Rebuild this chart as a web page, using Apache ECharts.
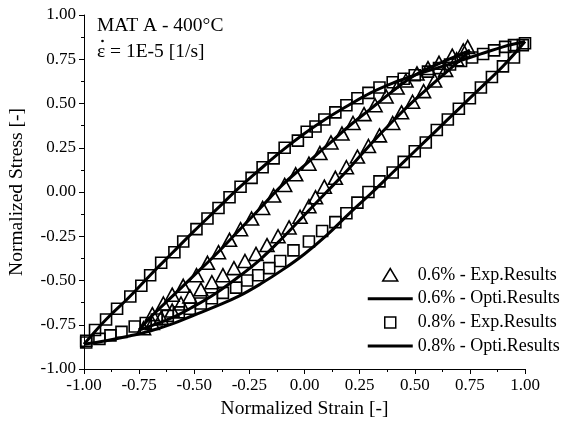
<!DOCTYPE html>
<html><head><meta charset="utf-8">
<script src="https://cdn.jsdelivr.net/npm/echarts@6/dist/echarts.min.js"></script>
<style>html,body{margin:0;padding:0;background:#fff}#c{width:567px;height:429px}</style>
</head><body><div id="c"></div>
<script>
// ---- data (normalized strain, normalized stress) ----
const exp06Load = [[-0.73,-0.77],[-0.69,-0.74],[-0.65,-0.71],[-0.60,-0.67],[-0.56,-0.63],[-0.52,-0.59],[-0.47,-0.55],[-0.42,-0.51],[-0.37,-0.47],[-0.32,-0.43],[-0.27,-0.39],[-0.22,-0.35],[-0.17,-0.30],[-0.12,-0.25],[-0.07,-0.20],[-0.02,-0.14],[0.02,-0.08],[0.05,-0.03],[0.09,0.03],[0.14,0.08],[0.19,0.14],[0.24,0.20],[0.29,0.26],[0.34,0.32],[0.40,0.39],[0.44,0.45],[0.49,0.51],[0.54,0.57],[0.59,0.63],[0.64,0.69],[0.69,0.75],[0.72,0.80]];
const exp06Unload = [[0.74,0.82],[0.67,0.77],[0.61,0.73],[0.56,0.70],[0.51,0.67],[0.46,0.63],[0.42,0.59],[0.37,0.54],[0.32,0.49],[0.27,0.44],[0.22,0.39],[0.17,0.33],[0.12,0.28],[0.07,0.22],[0.02,0.16],[-0.04,0.10],[-0.09,0.04],[-0.14,-0.02],[-0.19,-0.09],[-0.24,-0.15],[-0.29,-0.21],[-0.34,-0.27],[-0.39,-0.34],[-0.44,-0.40],[-0.49,-0.47],[-0.55,-0.53],[-0.60,-0.58],[-0.64,-0.63],[-0.69,-0.69]];
const exp08Load = [[-0.99,-0.85],[-0.93,-0.83],[-0.88,-0.81],[-0.83,-0.79],[-0.77,-0.76],[-0.72,-0.74],[-0.67,-0.72],[-0.62,-0.70],[-0.57,-0.68],[-0.52,-0.66],[-0.47,-0.63],[-0.42,-0.60],[-0.37,-0.57],[-0.31,-0.54],[-0.26,-0.50],[-0.21,-0.47],[-0.16,-0.43],[-0.11,-0.39],[-0.05,-0.33],[0.02,-0.28],[0.08,-0.22],[0.14,-0.17],[0.19,-0.12],[0.24,-0.06],[0.29,0.00],[0.34,0.06],[0.40,0.11],[0.45,0.17],[0.50,0.23],[0.55,0.28],[0.60,0.35],[0.65,0.41],[0.70,0.47],[0.75,0.53],[0.80,0.59],[0.85,0.65],[0.90,0.71],[0.95,0.76],[0.99,0.83]];
const exp08Unload = [[1.00,0.84],[0.95,0.83],[0.91,0.82],[0.86,0.80],[0.81,0.78],[0.76,0.76],[0.71,0.74],[0.66,0.72],[0.61,0.70],[0.56,0.68],[0.50,0.66],[0.45,0.64],[0.40,0.62],[0.34,0.59],[0.29,0.56],[0.24,0.53],[0.19,0.49],[0.14,0.45],[0.09,0.41],[0.05,0.37],[0.01,0.34],[-0.03,0.29],[-0.09,0.25],[-0.14,0.19],[-0.19,0.14],[-0.24,0.08],[-0.29,0.03],[-0.34,-0.03],[-0.39,-0.09],[-0.44,-0.15],[-0.49,-0.21],[-0.55,-0.28],[-0.59,-0.34],[-0.65,-0.40],[-0.70,-0.47],[-0.74,-0.53],[-0.79,-0.59],[-0.85,-0.66],[-0.90,-0.72],[-0.95,-0.78],[-0.99,-0.84]];
const opti06Load = [[-0.75,-0.78],[-0.6,-0.71],[-0.5,-0.645],[-0.4,-0.57],[-0.3,-0.48],[-0.2,-0.38],[-0.1,-0.26],[0.0,-0.13],[0.1,0.0],[0.2,0.13],[0.3,0.27],[0.4,0.40],[0.5,0.52],[0.6,0.63],[0.7,0.74],[0.75,0.80]];
const opti06Unload = [[0.75,0.80],[0.6,0.72],[0.5,0.66],[0.4,0.57],[0.3,0.47],[0.2,0.37],[0.1,0.26],[0.0,0.15],[-0.1,0.04],[-0.2,-0.09],[-0.3,-0.22],[-0.4,-0.35],[-0.5,-0.47],[-0.6,-0.59],[-0.7,-0.71],[-0.75,-0.78]];
const opti08Load = [[-1.0,-0.86],[-0.9,-0.84],[-0.8,-0.815],[-0.7,-0.785],[-0.6,-0.745],[-0.5,-0.695],[-0.4,-0.645],[-0.3,-0.59],[-0.2,-0.52],[-0.1,-0.44],[0.0,-0.35],[0.1,-0.245],[0.2,-0.125],[0.3,-0.01],[0.4,0.11],[0.5,0.23],[0.6,0.35],[0.7,0.47],[0.8,0.59],[0.9,0.71],[1.0,0.85]];
const opti08Unload = [[1.0,0.85],[0.9,0.82],[0.8,0.78],[0.7,0.74],[0.6,0.70],[0.5,0.66],[0.4,0.615],[0.3,0.56],[0.2,0.49],[0.1,0.415],[0.0,0.33],[-0.1,0.235],[-0.2,0.13],[-0.3,0.02],[-0.4,-0.10],[-0.5,-0.22],[-0.6,-0.345],[-0.7,-0.47],[-0.8,-0.60],[-0.9,-0.72],[-1.0,-0.86]];
const seriesNames = ['0.6% - Exp.Results','0.6% - Opti.Results','0.8% - Exp.Results','0.8% - Opti.Results'];
const annotation = ['MAT A - 400°C','ε = 1E-5 [1/s]'];
const xTitle = 'Normalized Strain [-]';
const yTitle = 'Normalized Stress [-]';

const FONT = '"Liberation Serif", "Times New Roman", serif';
const chart = echarts.init(document.getElementById('c'), null, {renderer:'canvas'});

function axis(name, gap, rotate){
  return {
    type:'value', min:-1, max:1, interval:0.25,
    name:name, nameLocation:'middle', nameGap:gap, nameRotate:rotate,
    nameTextStyle:{fontFamily:FONT, fontSize:19.5, color:'#000'},
    axisLine:{show:true, onZero:false, lineStyle:{color:'#000', width:1}},
    axisTick:{show:true, inside:false, length:5, lineStyle:{color:'#000', width:1}},
    minorTick:{show:true, splitNumber:2, length:3, lineStyle:{color:'#000', width:1}},
    axisLabel:{fontFamily:FONT, fontSize:17, color:'#000', margin:8, formatter:v=>v.toFixed(2)},
    splitLine:{show:false}, minorSplitLine:{show:false}
  };
}
const xa = axis(xTitle, 26, 0);
const ya = axis(yTitle, 57, 90);

function scatter(name, data, symbol, size){
  return {type:'scatter', name:name, data:data, symbol:symbol, symbolSize:size, z:2,
    itemStyle:{color:'rgba(0,0,0,0)', borderColor:'#000', borderWidth:1.6, opacity:1},
    emphasis:{disabled:true}, silent:true};
}
function line(name, data){
  return {type:'line', name:name, data:data, symbol:'none', showSymbol:false, smooth:0.4, z:3,
    lineStyle:{color:'#000', width:3}, itemStyle:{color:'#000'}, emphasis:{disabled:true}, silent:true};
}

const triIcon = 'path://M0,0 M45,14 M15,13 L22.5,0.5 L30,13 Z';
const sqIcon = 'path://M0,0 M45,14 M17,1.5 L28,1.5 L28,12.5 L17,12.5 Z';
const lnIcon = 'path://M0,0 M45,14 M0,5.5 L45,5.5 L45,8.5 L0,8.5 Z';
const hollow = {color:'rgba(0,0,0,0)', borderColor:'#000', borderWidth:1.5};
const solid = {color:'#000', borderWidth:0};

chart.setOption({
  backgroundColor:'#fff',
  animation:false,
  grid:{left:84, right:42, top:15, bottom:60, containLabel:false, outerBoundsMode:'none'},
  xAxis:xa, yAxis:ya,
  legend:{
    orient:'vertical', left:367, top:266, padding:0, itemWidth:45, itemHeight:14, itemGap:5.7,
    selectedMode:false,
    textStyle:{fontFamily:FONT, fontSize:18, color:'#000'},
    data:[
      {name:seriesNames[0], icon:triIcon, itemStyle:hollow},
      {name:seriesNames[1], icon:lnIcon, itemStyle:solid},
      {name:seriesNames[2], icon:sqIcon, itemStyle:hollow},
      {name:seriesNames[3], icon:lnIcon, itemStyle:solid}
    ]
  },
  graphic:[
    {type:'text', left:97, top:16, style:{text:annotation[0], font:'19.5px '+FONT, fill:'#000'}},
    {type:'text', left:97, top:42, style:{text:annotation[1], font:'19.5px '+FONT, fill:'#000'}},
    {type:'circle', shape:{cx:102.5, cy:41, r:1.3}, style:{fill:'#000'}}
  ],
  series:[
    scatter(seriesNames[0], exp06Load.concat(exp06Unload), 'triangle', [14,13]),
    scatter(seriesNames[2], exp08Load.concat(exp08Unload), 'rect', [11,11]),
    line(seriesNames[1], opti06Load),
    line(seriesNames[1], opti06Unload),
    line(seriesNames[3], opti08Load),
    line(seriesNames[3], opti08Unload)
  ]
});
</script></body></html>
